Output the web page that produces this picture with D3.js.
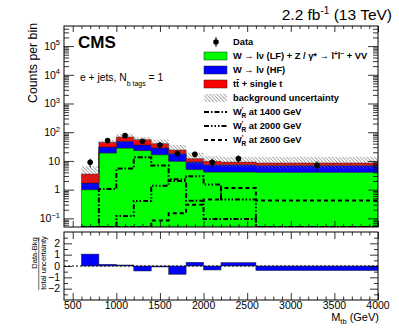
<!DOCTYPE html>
<html>
<head>
<meta charset="utf-8">
<script src="https://cdn.jsdelivr.net/npm/d3@7"></script>
<style>
  body { margin: 0; background: #fff; }
  svg { display: block; font-family: "Liberation Sans", Arial, Helvetica, sans-serif; }
</style>
</head>
<body>
<svg id="chart" width="399" height="328"></svg>
<script>

// bin edges in M_tb (GeV)
const binEdges = [600, 800, 1000, 1200, 1400, 1600, 1800, 2000, 2200, 2600, 4000];

// background processes, counts per bin (not stacked)
const wLF   = [1.0, 19, 28, 23, 16.5, 9.7, 5.0, 4.1, 4.1, 4.0];
const wHF   = [0.7, 11.6, 20, 13, 11.5, 8.3, 4.2, 3.3, 3.3, 3.0];
const ttbar = [1.8, 14, 20, 19, 12, 6.0, 2.8, 2.3, 1.7, 1.5];

// multiplicative size of the hatched background uncertainty
const bkgUnc = [1.85, 1.17, 1.3, 1.24, 1.4, 1.5, 1.6, 1.5, 1.5, 1.6];

// observed data
const dataCounts = [9, 51, 76, 48, 36, 18, 17, 9, 12, 7];

// W'_R signal templates
const sig1400 = [0.01, 1.05, 5.4, 13.4, 6.9, 2.0, 0.41, 0.095, 0.095, 0.01];
const sig2000 = [0.01, 0.01, 0.12, 0.4, 1.38, 2.3, 2.9, 1.5, 0.45, 0.01];
const sig2600 = [0.01, 0.01, 0.01, 0.01, 0.085, 0.15, 0.3, 0.45, 1.14, 0.42];

// (data - bkg) / total uncertainty
const pull = [1.05, 0.15, 0.09, -0.44, -0.02, -0.73, 0.33, -0.35, 0.3, -0.4];

const xTicks = [500, 1000, 1500, 2000, 2500, 3000, 3500, 4000];
const decades = [0.1, 1, 10, 100, 1000, 10000, 100000];
const ratioTicks = [-2, -1, 0, 1, 2];

const svg = d3.select("#chart");

const frame = {left: 64, right: 378, top: 26, bottom: 227};
const rframe = {top: 232, bottom: 300};

const x = d3.scaleLinear().domain([400, 4000]).range([frame.left, frame.right]);
const y = d3.scaleLog().domain([0.05, 5e5]).range([frame.bottom, frame.top]).clamp(true);
const yr = d3.scaleLinear().domain([-3, 3]).range([rframe.bottom, rframe.top]);

// hatch pattern for uncertainty
const defs = svg.append("defs");
const pat = defs.append("pattern")
    .attr("id", "hatch")
    .attr("patternUnits", "userSpaceOnUse")
    .attr("width", 3.5).attr("height", 3.5);
pat.append("path")
    .attr("d", "M0,0 L3.5,3.5 M-1,2.5 L1,4.5 M2.5,-1 L4.5,1")
    .attr("stroke", "#666").attr("stroke-width", 0.75);

defs.append("clipPath").attr("id", "mainclip")
  .append("rect")
    .attr("x", frame.left).attr("y", frame.top)
    .attr("width", frame.right - frame.left)
    .attr("height", frame.bottom - frame.top);

// stacked table
const table = binEdges.slice(0, -1).map((e, i) => ({
	lo: e, hi: binEdges[i + 1], lf: wLF[i], hf: wHF[i], tt: ttbar[i]
}));
const stack = d3.stack().keys(["lf", "hf", "tt"])(table);
const colours = {lf: "#00ff00", hf: "#0000ff", tt: "#ff0000"};

// expand bins into step points (last edge repeats last bin)
function steps(vals) {
	const pts = vals.map((v, i) => ({x: binEdges[i], v: v}));
	pts.push({x: binEdges[binEdges.length - 1], v: vals[vals.length - 1]});
	return pts;
}

const main = svg.append("g").attr("clip-path", "url(#mainclip)");

stack.forEach(layer => {
	const lo = layer.map(d => Math.max(d[0], 0.001));
	const hi = layer.map(d => d[1]);
	const pts = steps(hi).map((p, i) => ({x: p.x, hi: p.v, lo: (i < lo.length ? lo[i] : lo[lo.length - 1])}));
	main.append("path")
		.datum(pts)
		.attr("fill", colours[layer.key])
		.attr("stroke", "#222")
		.attr("stroke-width", 0.5)
		.attr("d", d3.area()
			.curve(d3.curveStepAfter)
			.x(d => x(d.x))
			.y0(d => y(d.lo))
			.y1(d => y(d.hi)));
});

// background uncertainty band
const totals = table.map(d => d.lf + d.hf + d.tt);
const bandPts = steps(totals).map((p, i) => {
	const f = bkgUnc[Math.min(i, bkgUnc.length - 1)];
	return {x: p.x, lo: p.v / f, hi: p.v * f};
});
main.append("path")
	.datum(bandPts)
	.attr("fill", "url(#hatch)")
	.attr("d", d3.area()
		.curve(d3.curveStepAfter)
		.x(d => x(d.x))
		.y0(d => y(d.lo))
		.y1(d => y(d.hi)));

// signal lines
const signals = [
	{vals: sig1400, dash: "5,2,1.5,2"},
	{vals: sig2000, dash: "5,2,1.5,2,1.5,2,1.5,2"},
	{vals: sig2600, dash: "4,3"}
];
signals.forEach(s => {
	const pts = steps(s.vals);
	main.append("path")
		.datum(pts)
		.attr("fill", "none")
		.attr("stroke", "#000")
		.attr("stroke-width", 2)
		.attr("stroke-dasharray", s.dash)
		.attr("d", d3.line()
			.curve(d3.curveStepAfter)
			.x(d => x(d.x))
			.y(d => y(d.v)));
});

// data points
const pts = table.map((d, i) => ({cx: (d.lo + d.hi) / 2, n: dataCounts[i]}));
main.selectAll(".err").data(pts).join("line")
	.attr("x1", d => x(d.cx)).attr("x2", d => x(d.cx))
	.attr("y1", d => y(d.n + Math.sqrt(d.n)))
	.attr("y2", d => y(Math.max(d.n - Math.sqrt(d.n), 0.01)))
	.attr("stroke", "#000").attr("stroke-width", 1);
main.selectAll(".pt").data(pts).join("circle")
	.attr("cx", d => x(d.cx)).attr("cy", d => y(d.n))
	.attr("r", 2.8).attr("fill", "#000");

// frames
svg.append("rect")
	.attr("x", frame.left).attr("y", frame.top)
	.attr("width", frame.right - frame.left).attr("height", frame.bottom - frame.top)
	.attr("fill", "none").attr("stroke", "#000").attr("stroke-width", 1);

// ticks helper: removes the domain line, no labels
function ticks(axis, vals, size, transform) {
	svg.append("g")
		.attr("transform", transform)
		.call(axis.tickValues(vals).tickSize(-size).tickFormat(""))
		.call(g => g.select(".domain").remove())
		.call(g => g.selectAll("line").attr("stroke-width", 0.8));
}

const minorX = d3.range(500, 4001, 100).filter(v => v % 500 != 0);
const minorY = [];
for (let e = -2; e <= 5; e++)
	for (let m = 2; m <= 9; m++) {
		const v = m * Math.pow(10, e);
		if (v > 0.05 && v < 5e5) minorY.push(v);
	}

ticks(d3.axisLeft(y), decades, 10, "translate(" + frame.left + ",0)");
ticks(d3.axisLeft(y), minorY, 5, "translate(" + frame.left + ",0)");
ticks(d3.axisRight(y), decades, 10, "translate(" + frame.right + ",0)");
ticks(d3.axisRight(y), minorY, 5, "translate(" + frame.right + ",0)");
ticks(d3.axisTop(x), xTicks, 6, "translate(0," + frame.top + ")");
ticks(d3.axisTop(x), minorX, 3, "translate(0," + frame.top + ")");
ticks(d3.axisBottom(x), xTicks, 6, "translate(0," + frame.bottom + ")");
ticks(d3.axisBottom(x), minorX, 3, "translate(0," + frame.bottom + ")");

// main y labels with exponents
const ylab = svg.append("g").attr("font-size", 10.5);
decades.forEach(v => {
	const t = ylab.append("text")
		.attr("x", 60).attr("y", y(v) + 3.8)
		.attr("text-anchor", "end");
	const e = Math.round(Math.log10(v));
	if (e == 0) { t.text("1"); return; }
	t.append("tspan").text("10");
	if (e != 1)
		t.append("tspan").attr("dy", -4.5).attr("font-size", 7.5)
			.text(e < 0 ? "\u2212" + (-e) : e);
});

svg.append("text")
	.attr("transform", "translate(36.5,23) rotate(-90)")
	.attr("text-anchor", "end")
	.attr("font-size", 12.3)
	.text("Counts per bin");

// ratio panel
const ratio = svg.append("g");
ratio.selectAll("rect").data(table).join("rect")
	.attr("x", d => x(d.lo))
	.attr("width", d => x(d.hi) - x(d.lo))
	.attr("y", (d, i) => yr(Math.max(pull[i], 0)))
	.attr("height", (d, i) => Math.max(Math.abs(yr(pull[i]) - yr(0)), 1))
	.attr("fill", "#0000ff")
	.attr("stroke", "#222").attr("stroke-width", 0.5);

ratio.append("line")
	.attr("x1", frame.left).attr("x2", frame.right)
	.attr("y1", yr(0)).attr("y2", yr(0))
	.attr("stroke", "#000").attr("stroke-width", 1)
	.attr("stroke-dasharray", "2,2");

svg.append("rect")
	.attr("x", frame.left).attr("y", rframe.top)
	.attr("width", frame.right - frame.left).attr("height", rframe.bottom - rframe.top)
	.attr("fill", "none").attr("stroke", "#000").attr("stroke-width", 1);

const minorR = d3.range(-2.5, 2.6, 0.5).filter(v => v % 1 != 0);
ticks(d3.axisLeft(yr), ratioTicks, 8, "translate(" + frame.left + ",0)");
ticks(d3.axisLeft(yr), minorR, 4, "translate(" + frame.left + ",0)");
ticks(d3.axisRight(yr), ratioTicks, 8, "translate(" + frame.right + ",0)");
ticks(d3.axisRight(yr), minorR, 4, "translate(" + frame.right + ",0)");
ticks(d3.axisBottom(x), xTicks, 7, "translate(0," + rframe.bottom + ")");
ticks(d3.axisBottom(x), minorX, 3.5, "translate(0," + rframe.bottom + ")");
ticks(d3.axisTop(x), xTicks, 7, "translate(0," + rframe.top + ")");
ticks(d3.axisTop(x), minorX, 3.5, "translate(0," + rframe.top + ")");

svg.append("g").attr("font-size", 10.5).attr("text-anchor", "end")
  .selectAll("text").data(ratioTicks).join("text")
	.attr("x", 60).attr("y", d => yr(d) + 3.8)
	.text(d => d < 0 ? "\u2212" + (-d) : d);

svg.append("g").attr("font-size", 10.5).attr("text-anchor", "middle")
  .selectAll("text").data(xTicks).join("text")
	.attr("x", d => x(d)).attr("y", 308.5)
	.text(d => d);

// ratio y title as fraction
const frac = svg.append("g").attr("font-size", 7.6).attr("text-anchor", "middle");
frac.append("text")
	.attr("transform", "translate(37,253) rotate(-90)")
	.text("Data-Bkg");
frac.append("line")
	.attr("x1", 38.8).attr("x2", 38.8).attr("y1", 237).attr("y2", 290)
	.attr("stroke", "#000").attr("stroke-width", 0.6);
frac.append("text")
	.attr("transform", "translate(45.8,263) rotate(-90)")
	.text("total uncertainty");

// x title
const xt = svg.append("text")
	.attr("x", 379).attr("y", 321)
	.attr("text-anchor", "end")
	.attr("font-size", 11);
xt.append("tspan").text("M");
xt.append("tspan").attr("dy", 2.5).attr("font-size", 7.5).text("tb");
xt.append("tspan").attr("dy", -2.5).text(" (GeV)");

// header texts
const lumi = svg.append("text")
	.attr("x", 392).attr("y", 19.5)
	.attr("text-anchor", "end")
	.attr("font-size", 15.5);
lumi.append("tspan").text("2.2 fb");
lumi.append("tspan").attr("dy", -6).attr("font-size", 10).text("-1");
lumi.append("tspan").attr("dy", 6).text(" (13 TeV)");

svg.append("text")
	.attr("x", 78).attr("y", 48)
	.attr("font-size", 17).attr("font-weight", "bold")
	.text("CMS");

const chan = svg.append("text")
	.attr("x", 80).attr("y", 81)
	.attr("font-size", 10.3);
chan.append("tspan").text("e + jets, N");
chan.append("tspan").attr("dy", 4.5).attr("font-size", 7).text("b tags");
chan.append("tspan").attr("dy", -4.5).text(" = 1");

// legend
const legend = svg.append("g").attr("font-size", 9.3).attr("font-weight", "bold");
const rowY = i => 42 + i * 14;

legend.append("line")
	.attr("x1", 216).attr("x2", 216).attr("y1", rowY(0) - 5).attr("y2", rowY(0) + 5)
	.attr("stroke", "#000");
legend.append("circle").attr("cx", 216).attr("cy", rowY(0)).attr("r", 2.8);

[["lf", 1], ["hf", 2], ["tt", 3]].forEach(([k, i]) => {
	legend.append("rect")
		.attr("x", 204).attr("y", rowY(i) - 4).attr("width", 23).attr("height", 8)
		.attr("fill", colours[k]).attr("stroke", "#222").attr("stroke-width", 0.5);
});
legend.append("rect")
	.attr("x", 204).attr("y", rowY(4) - 4).attr("width", 23).attr("height", 8)
	.attr("fill", "url(#hatch)");
signals.forEach((s, i) => {
	legend.append("line")
		.attr("x1", 204).attr("x2", 227).attr("y1", rowY(5 + i)).attr("y2", rowY(5 + i))
		.attr("stroke", "#000").attr("stroke-width", 2)
		.attr("stroke-dasharray", s.dash);
});

function legText(i) {
	return legend.append("text").attr("x", 233).attr("y", rowY(i) + 3.3);
}
legText(0).text("Data");
const l1 = legText(1);
l1.append("tspan").text("W \u2192 l\u03bd (LF) + Z / \u03b3* \u2192 l");
l1.append("tspan").attr("dy", -3).attr("font-size", 6.5).text("+");
l1.append("tspan").attr("dy", 3).text("l");
l1.append("tspan").attr("dy", -3).attr("font-size", 6.5).text("\u2212");
l1.append("tspan").attr("dy", 3).text(" + VV");
legText(2).text("W \u2192 l\u03bd (HF)");
legText(3).text("tt\u0304 + single t");
legText(4).text("background uncertainty");
["1400", "2000", "2600"].forEach((m, i) => {
	const t = legText(5 + i);
	t.append("tspan").text("W");
	t.append("tspan").attr("dy", -3.5).attr("font-size", 6.5).text("'");
	t.append("tspan").attr("dy", 6).attr("dx", -1.8).attr("font-size", 6.5).text("R");
	t.append("tspan").attr("dy", -2.5).text(" at " + m + " GeV");
});

</script>
</body>
</html>
